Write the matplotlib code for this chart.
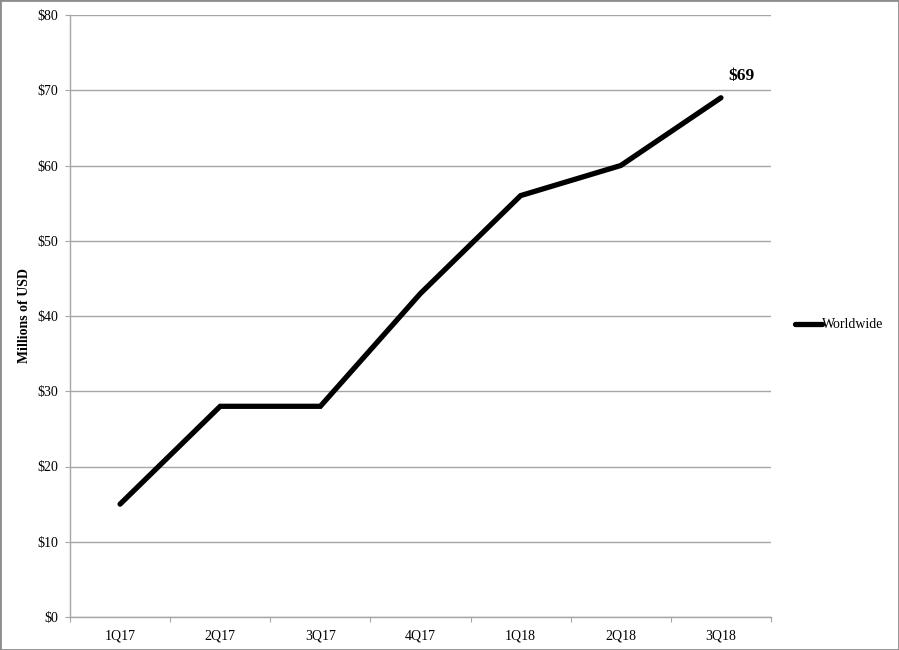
import matplotlib.pyplot as plt
from matplotlib.patches import Rectangle

# データ
quarters = ['1Q17', '2Q17', '3Q17', '4Q17', '1Q18', '2Q18', '3Q18']
worldwide = [15, 28, 28, 43, 56, 60, 69]
y_ticks = [0, 10, 20, 30, 40, 50, 60, 70, 80]
y_labels = [f'${v}' for v in y_ticks]

plt.rcParams['font.family'] = ['Liberation Serif', 'DejaVu Serif']

fig = plt.figure(figsize=(8.99, 6.5), dpi=100)
ax = fig.add_axes([70 / 899, 33 / 650, 701 / 899, 602 / 650])

x = list(range(len(quarters)))
line, = ax.plot(x, worldwide, color='black', linewidth=3.8,
                solid_capstyle='round', solid_joinstyle='miter', zorder=3)

ax.set_xlim(-0.5, len(quarters) - 0.5)
ax.set_ylim(0, 80)
ax.set_yticks(y_ticks)
ax.set_yticklabels(y_labels, fontsize=10)
ax.yaxis.grid(True, color='#a6a6a6', linewidth=1)
ax.set_axisbelow(True)

# カテゴリ境界に目盛、ラベルは中央
ax.set_xticks([i - 0.5 for i in range(len(quarters) + 1)])
ax.set_xticklabels([])
ax.set_xticks(x, minor=True)
ax.set_xticklabels(quarters, minor=True, fontsize=10)
ax.tick_params(axis='x', which='minor', length=0, pad=9)
ax.tick_params(axis='x', which='major', length=3.5, color='#a6a6a6', direction='out')
ax.tick_params(axis='y', length=3.5, color='#a6a6a6', pad=5)

for side in ('top', 'right'):
    ax.spines[side].set_visible(False)
for side in ('left', 'bottom'):
    ax.spines[side].set_color('#a6a6a6')
    ax.spines[side].set_linewidth(1)

ax.set_ylabel('Millions of USD', fontsize=10, fontweight='bold')
ax.yaxis.set_label_coords(-39 / 701, 0.5)

ax.annotate(f'${worldwide[-1]}', xy=(x[-1], worldwide[-1]), xytext=(15, 10),
            textcoords='offset points', ha='center', va='bottom',
            fontsize=12.5, fontweight='bold')

fig.legend([line], ['Worldwide'], loc='center left', bbox_to_anchor=(782 / 899, 325 / 650),
           frameon=False, fontsize=10, handlelength=2.0, handletextpad=0.0)

fig.patches.append(Rectangle((0, 0), 1, 1, transform=fig.transFigure, fill=False,
                             edgecolor='#8c8c8c', linewidth=2))

fig.savefig('out.png', dpi=100)
